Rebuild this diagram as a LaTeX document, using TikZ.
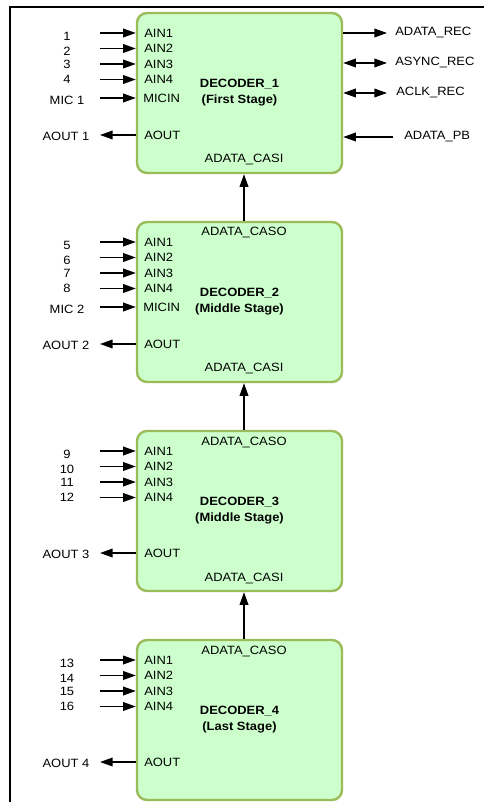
\documentclass[tikz,border=0pt]{standalone}
\usepackage{fontspec}
\setmainfont{Liberation Sans}[FakeStretch=1.08]
\usetikzlibrary{arrows.meta,positioning}
\definecolor{DecFill}{HTML}{CCFFCC}
\definecolor{DecLine}{HTML}{9BBB59}
\newcommand{\pinfont}{\fontsize{9pt}{12pt}\selectfont}
\tikzset{
  decbox/.style={draw=DecLine, fill=DecFill, line width=1.8pt, rounded corners=7.5pt,
    minimum width=153.75pt, minimum height=120pt, align=center, font=\pinfont\bfseries},
  pinlab/.style={anchor=west, inner sep=0pt},
  sig/.style={-{Triangle[length=9.5pt,width=6.5pt]}, line width=1.1pt},
  bisig/.style={{Triangle[length=9.5pt,width=6.5pt]}-{Triangle[length=9.5pt,width=6.5pt]}, line width=1.1pt}
}

\begin{document}
\begin{tikzpicture}[x=0.75pt,y=-0.75pt,font=\pinfont]
  \useasboundingbox (0,0) rectangle (484,802);
  % frame
  \draw[line width=1.9pt] (10,802) -- (10,7) -- (484,7);

  % the four decoders
  \foreach \i/\stage in {1/First Stage,2/Middle Stage,3/Middle Stage,4/Last Stage} {
    \pgfmathsetmacro{\T}{13+209*(\i-1)}
    \node[decbox] (dec\i) at (239.5,\T+80) {DECODER\_\i\\(\stage)};
    % analog inputs
    \foreach \k/\yy/\ny in {1/20/23,2/35.5/38,3/51/51,4/66.5/66.5} {
      \pgfmathtruncatemacro{\n}{4*(\i-1)+\k}
      \node[pinlab] (dec\i-ain\k) at (144,\T+\yy) {AIN\k};
      \node (num\i-\k) at (67,\T+\ny) {\n};
      \coordinate (src\i-\k) at (100,\T+\yy);
      \draw[sig] (src\i-\k) -- (dec\i.west |- dec\i-ain\k);
    }
    % mic input
    \ifnum\i<3
      \node[pinlab] (dec\i-mic) at (143,\T+85) {MICIN};
      \node (mic\i) at (67,\T+87) {MIC \i};
      \coordinate (micsrc\i) at (100,\T+85);
      \draw[sig] (micsrc\i) -- (dec\i.west |- dec\i-mic);
    \fi
    % analog output
    \node[pinlab] (dec\i-aout) at (144,\T+122) {AOUT};
    \node (aout\i) at (66,\T+123) {AOUT \i};
    \coordinate (dst\i) at (100,\T+122);
    \draw[sig] (dec\i.west |- dec\i-aout) -- (dst\i);
    % cascade pins
    \ifnum\i<4
      \node (dec\i-casi) at (244,\T+147) {ADATA\_CASI};
    \fi
    \ifnum\i>1
      \node (dec\i-caso) at (244,\T+11) {ADATA\_CASO};
    \fi
  }

  % cascade links
  \foreach \i in {2,3,4} {
    \pgfmathtruncatemacro{\j}{\i-1}
    \draw[sig] (dec\i.north -| dec\i-caso) -- (dec\j.south -| dec\i-caso);
  }

  % outputs of the first stage
  \node[pinlab] (adrec) at (395,33) {ADATA\_REC};
  \node[pinlab] (async) at (395,63) {ASYNC\_REC};
  \node[pinlab] (aclk) at (396,93) {ACLK\_REC};
  \node[pinlab] (adpb) at (404,137) {ADATA\_PB};
  \draw[sig] (dec1.east |- adrec) -- ([xshift=-6pt]adrec.west);
  \draw[bisig] (dec1.east |- async) -- ([xshift=-6pt]async.west);
  \draw[bisig] (dec1.east |- aclk) -- ([xshift=-6.75pt]aclk.west);
  \draw[sig] ([xshift=-8pt]adpb.west) -- (dec1.east |- adpb);
\end{tikzpicture}
\end{document}
